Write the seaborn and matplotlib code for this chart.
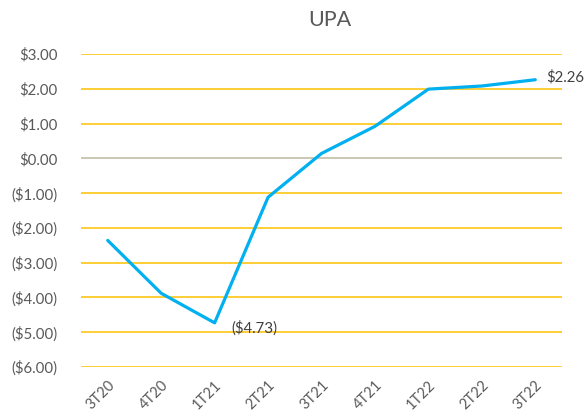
import matplotlib
matplotlib.use("Agg")
import matplotlib.pyplot as plt
import seaborn as sns
import pandas as pd

quarters = ["3T20", "4T20", "1T21", "2T21", "3T21", "4T21", "1T22", "2T22", "3T22"]
upa = [-2.36, -3.88, -4.73, -1.12, 0.14, 0.92, 1.99, 2.08, 2.26]
yticks = [3, 2, 1, 0, -1, -2, -3, -4, -5, -6]

sns.set_style("white")
plt.rcParams["font.family"] = ["Lato", "DejaVu Sans"]

df = pd.DataFrame({"q": quarters, "upa": upa})

fig = plt.figure(figsize=(5.85, 4.13), dpi=100)
ax = fig.add_axes([81/585, 1-367/413, (562-81)/585, (367-54)/413])

for v in yticks:
    ax.axhline(v, color="#FFC000" if v != 0 else "#BFB8A0", lw=1.1, zorder=1)

sns.lineplot(data=df, x="q", y="upa", ax=ax, color="#00B0F0", lw=2.3, sort=False, zorder=3)

ax.set_xlim(-0.5, len(quarters) - 0.5)
ax.set_ylim(-6, 3)
ax.set_yticks(yticks)
def fmt(v):
    return f"${v:.2f}" if v >= 0 else f"(${-v:.2f})"
ax.set_yticklabels([fmt(v) for v in yticks], color="#595959", fontsize=10.8)
ax.set_xticks(range(len(quarters)))
ax.set_xticklabels(quarters, rotation=45, ha="right", rotation_mode="anchor",
                   color="#595959", fontsize=10.5)
ax.tick_params(axis="y", length=0, pad=17)
ax.tick_params(axis="x", length=0, pad=8)
ax.set_xlabel("")
ax.set_ylabel("")
for s in ax.spines.values():
    s.set_visible(False)

ax.annotate(fmt(upa[-1]), (len(quarters) - 1, upa[-1]), xytext=(8, 2),
            textcoords="offset points", color="#404040", fontsize=10.8, va="center",
            annotation_clip=False)
ax.annotate(fmt(upa[2]), (2, upa[2]), xytext=(12, -4),
            textcoords="offset points", color="#404040", fontsize=10.8, va="center")

fig.text(330/585, 1-20/413, "UPA", ha="center", va="center", color="#595959", fontsize=15.5)

fig.savefig("out.png", dpi=100)
